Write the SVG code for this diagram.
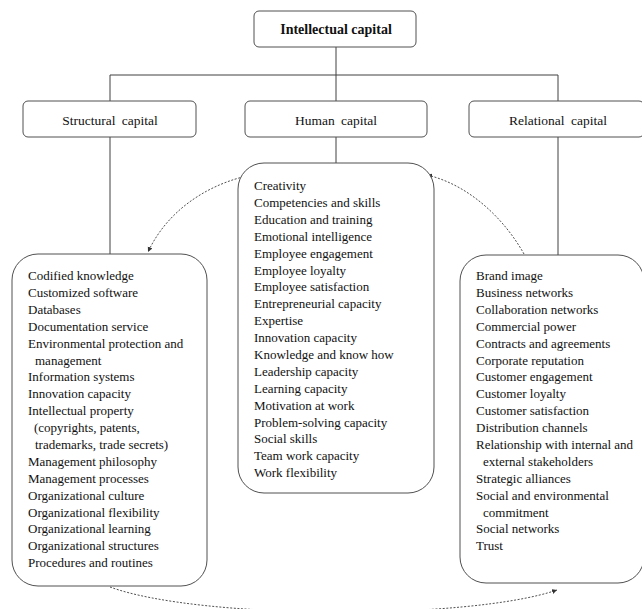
<svg xmlns="http://www.w3.org/2000/svg" width="642" height="609" viewBox="0 0 642 609">
<style>
.box{fill:#fff;stroke:#505050;stroke-width:1}
.ln{stroke:#404040;stroke-width:1;fill:none}
.dot{stroke:#505050;stroke-width:1;fill:none;stroke-dasharray:2 1.6}
.hd{font-family:"Liberation Serif","Times New Roman",serif;font-size:13.5px;fill:#111;text-anchor:middle;word-spacing:3px}
.ttl{font-family:"Liberation Serif","Times New Roman",serif;font-size:14px;font-weight:bold;fill:#111;text-anchor:middle}
.lst{font-family:"Liberation Serif","Times New Roman",serif;font-size:13px;fill:#111}
</style>
<defs>
<marker id="ah" markerWidth="6" markerHeight="6" refX="5" refY="3" orient="auto" markerUnits="userSpaceOnUse">
<path d="M0,0.5 L5,3 L0,5.5 Z" fill="#333"/>
</marker>
</defs>
<g id="connectors">
<path class="ln" d="M336,47 V75 M110,75 H558 M110,75 V101 M336,75 V101 M558,75 V101"/>
<path class="ln" d="M110,137 V254 M336,137 V163 M558,137 V255"/>
<path class="dot" d="M247,176 C215,183 170,205 148,252" marker-end="url(#ah)"/>
<path class="dot" d="M524,254 C505,220 470,185 427,175" marker-end="url(#ah)"/>
<path class="dot" d="M110,587 C200,620 470,620 557,590" marker-end="url(#ah)"/>
</g>
<g id="intellectual">
<rect class="box" x="254" y="11" width="162" height="36" rx="5"/>
<text class="ttl" x="336" y="34">Intellectual capital</text>
</g>
<g id="structural">
<rect class="box" x="23" y="101" width="173" height="36" rx="5"/>
<text class="hd" x="110" y="124.5">Structural capital</text>
</g>
<g id="human">
<rect class="box" x="245" y="101" width="182" height="36" rx="5"/>
<text class="hd" x="336" y="124.5">Human capital</text>
</g>
<g id="relational">
<rect class="box" x="469" y="101" width="175" height="36" rx="5"/>
<text class="hd" x="558" y="124.5">Relational capital</text>
</g>
<g id="structural-list">
<rect class="box" x="12" y="254" width="195" height="332" rx="26"/>
<text class="lst" x="28" y="280">
<tspan x="28">Codified knowledge</tspan>
<tspan x="28" dy="16.9">Customized software</tspan>
<tspan x="28" dy="16.9">Databases</tspan>
<tspan x="28" dy="16.9">Documentation service</tspan>
<tspan x="28" dy="16.9">Environmental protection and</tspan>
<tspan x="35" dy="16.9">management</tspan>
<tspan x="28" dy="16.9">Information systems</tspan>
<tspan x="28" dy="16.9">Innovation capacity</tspan>
<tspan x="28" dy="16.9">Intellectual property</tspan>
<tspan x="34" dy="16.9">(copyrights, patents,</tspan>
<tspan x="35" dy="16.9">trademarks, trade secrets)</tspan>
<tspan x="28" dy="16.9">Management philosophy</tspan>
<tspan x="28" dy="16.9">Management processes</tspan>
<tspan x="28" dy="16.9">Organizational culture</tspan>
<tspan x="28" dy="16.9">Organizational flexibility</tspan>
<tspan x="28" dy="16.9">Organizational learning</tspan>
<tspan x="28" dy="16.9">Organizational structures</tspan>
<tspan x="28" dy="16.9">Procedures and routines</tspan>
</text>
</g>
<g id="human-list">
<rect class="box" x="238" y="163" width="196" height="330" rx="26"/>
<text class="lst" x="254" y="190">
<tspan x="254">Creativity</tspan>
<tspan x="254" dy="16.9">Competencies and skills</tspan>
<tspan x="254" dy="16.9">Education and training</tspan>
<tspan x="254" dy="16.9">Emotional intelligence</tspan>
<tspan x="254" dy="16.9">Employee engagement</tspan>
<tspan x="254" dy="16.9">Employee loyalty</tspan>
<tspan x="254" dy="16.9">Employee satisfaction</tspan>
<tspan x="254" dy="16.9">Entrepreneurial capacity</tspan>
<tspan x="254" dy="16.9">Expertise</tspan>
<tspan x="254" dy="16.9">Innovation capacity</tspan>
<tspan x="254" dy="16.9">Knowledge and know how</tspan>
<tspan x="254" dy="16.9">Leadership capacity</tspan>
<tspan x="254" dy="16.9">Learning capacity</tspan>
<tspan x="254" dy="16.9">Motivation at work</tspan>
<tspan x="254" dy="16.9">Problem-solving capacity</tspan>
<tspan x="254" dy="16.9">Social skills</tspan>
<tspan x="254" dy="16.9">Team work capacity</tspan>
<tspan x="254" dy="16.9">Work flexibility</tspan>
</text>
</g>
<g id="relational-list">
<rect class="box" x="460" y="255" width="184" height="328" rx="26"/>
<text class="lst" x="476" y="280">
<tspan x="476">Brand image</tspan>
<tspan x="476" dy="16.9">Business networks</tspan>
<tspan x="476" dy="16.9">Collaboration networks</tspan>
<tspan x="476" dy="16.9">Commercial power</tspan>
<tspan x="476" dy="16.9">Contracts and agreements</tspan>
<tspan x="476" dy="16.9">Corporate reputation</tspan>
<tspan x="476" dy="16.9">Customer engagement</tspan>
<tspan x="476" dy="16.9">Customer loyalty</tspan>
<tspan x="476" dy="16.9">Customer satisfaction</tspan>
<tspan x="476" dy="16.9">Distribution channels</tspan>
<tspan x="476" dy="16.9">Relationship with internal and</tspan>
<tspan x="483" dy="16.9">external stakeholders</tspan>
<tspan x="476" dy="16.9">Strategic alliances</tspan>
<tspan x="476" dy="16.9">Social and environmental</tspan>
<tspan x="483" dy="16.9">commitment</tspan>
<tspan x="476" dy="16.9">Social networks</tspan>
<tspan x="476" dy="16.9">Trust</tspan>
</text>
</g>
</svg>
